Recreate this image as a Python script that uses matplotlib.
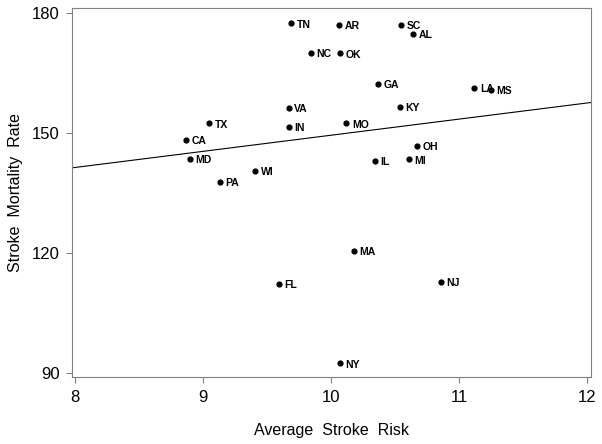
import numpy as np
import matplotlib.pyplot as plt

plt.rcParams['font.family'] = ['Liberation Sans', 'DejaVu Sans']

# state, average stroke risk, stroke mortality rate
states = ['TN', 'AR', 'SC', 'AL', 'NC', 'OK', 'GA', 'LA', 'MS', 'KY', 'MO', 'OH',
          'IL', 'MI', 'VA', 'IN', 'TX', 'CA', 'MD', 'WI', 'PA', 'FL', 'MA', 'NJ', 'NY']
risk = [9.69, 10.06, 10.55, 10.64, 9.84, 10.07, 10.37, 11.12, 11.25, 10.54, 10.12, 10.67,
        10.34, 10.61, 9.67, 9.67, 9.05, 8.87, 8.90, 9.41, 9.13, 9.59, 10.18, 10.86, 10.07]
mortality = [177.4, 177.0, 177.0, 174.8, 170.1, 169.9, 162.2, 161.3, 160.8, 156.6, 152.4, 146.8,
             143.1, 143.4, 156.3, 151.5, 152.4, 148.3, 143.6, 140.6, 137.8, 112.3, 120.5, 112.8, 92.4]

xticks = [8, 9, 10, 11, 12]
yticks = [90, 120, 150, 180]

fig = plt.figure(figsize=(6.02, 4.44), dpi=100)
ax = fig.add_axes([0.1196, 0.1509, 0.862, 0.831])

ax.scatter(risk, mortality, s=12, color='black', zorder=3)
for s, x, y in zip(states, risk, mortality):
    ax.annotate(s, (x, y), xytext=(4, -0.8), textcoords='offset points',
                fontsize=7.5, fontweight='bold', va='center', ha='left')

# least squares fit line
slope, icpt = np.polyfit(risk, mortality, 1)
xl = np.array([7.977, 12.03])
ax.plot(xl, icpt + slope * xl, color='black', lw=0.8)

ax.set_xlim(7.977, 12.03)
ax.set_ylim(89, 181.25)
ax.set_xticks(xticks)
ax.set_yticks(yticks)
ax.tick_params(labelsize=12, direction='out', length=4, color='#808080', pad=5)
for sp in ax.spines.values():
    sp.set_color('#808080')
ax.set_xlabel('Average  Stroke  Risk', fontsize=11.5, labelpad=13)
ax.set_ylabel('Stroke  Mortality  Rate', fontsize=11.5, labelpad=6)

fig.savefig('out.png', dpi=100)
